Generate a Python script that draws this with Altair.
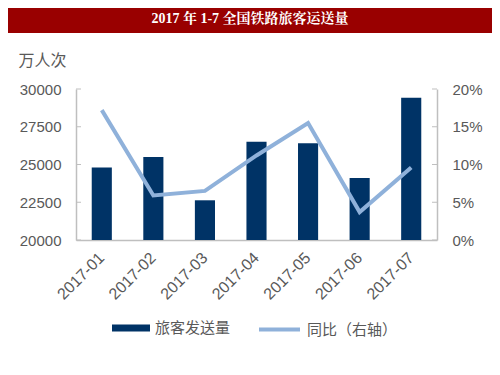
import altair as alt
import pandas as pd

months = ["2017-01", "2017-02", "2017-03", "2017-04", "2017-05", "2017-06", "2017-07"]
volume = [24800, 25500, 22630, 26500, 26400, 24100, 29420]
yoy = [0.172, 0.059, 0.065, 0.112, 0.155, 0.037, 0.096]
left_ticks = [20000, 22500, 25000, 27500, 30000]
right_ticks = [0, 0.05, 0.10, 0.15, 0.20]
title_text = "2017 年 1-7 全国铁路旅客运送量"
bar_name = "旅客发送量"
line_name = "同比（右轴）"
unit_label = "万人次"

FONT = "Liberation Sans, Noto Sans CJK SC, sans-serif"
TXT = "#595959"
GRID = "#BFBFBF"
BAR = "#003366"
LINE = "#8FB1DA"

df = pd.DataFrame({"month": months, "volume": volume, "yoy": yoy,
                   "s1": bar_name, "s2": line_name})

W, H = 361, 151
PL, PT = 68, 81

x = alt.X("month:N", title=None,
          scale=alt.Scale(paddingInner=0.61, paddingOuter=0.305),
          axis=alt.Axis(labelAngle=-45, labelAlign="right", labelBaseline="middle",
                        labelPadding=15, labelFontSize=16, ticks=False))

banner = alt.Chart(pd.DataFrame({"t": [title_text]})).mark_rect(color="#990000").encode(
    x=alt.value(-PL), x2=alt.value(W + 55), y=alt.value(-PT), y2=alt.value(-PT + 25))

title = alt.Chart(pd.DataFrame({"t": [title_text]})).mark_text(
    color="white", fontWeight="bold", fontSize=14,
    font="Liberation Serif, Noto Serif CJK SC, Noto Sans CJK SC, serif",
    align="center", baseline="middle").encode(
    text="t:N", x=alt.value(250 - 76), y=alt.value(-PT + 11))

bars = alt.Chart(df).mark_bar().encode(
    x=x,
    y=alt.Y("volume:Q",
            scale=alt.Scale(domain=[20000, 30000], zero=False, nice=False),
            axis=alt.Axis(orient="left", values=left_ticks, format="d", ticks=False,
                          labelPadding=15,
                          title=unit_label, titleAngle=0, titleX=-58, titleY=-29,
                          titleAlign="left", titleBaseline="middle", titleFontSize=16,
                          titleFontWeight="normal", titleColor=TXT, titleFont=FONT)),
    y2=alt.datum(20000),
    fill=alt.Fill("s1:N", scale=alt.Scale(domain=[bar_name], range=[BAR]),
                  legend=alt.Legend(title=None, orient="none", legendX=36, legendY=220,
                                    symbolType="M-1,-0.18L1,-0.18L1,0.18L-1,0.18Z",
                                    symbolSize=1444, symbolStrokeWidth=0, labelOffset=5,
                                    labelFontSize=15, labelColor=TXT, labelFont=FONT)),
)

lticks = alt.Chart(pd.DataFrame({"v": left_ticks})).mark_rule(color=GRID).encode(
    y=alt.Y("v:Q", scale=alt.Scale(domain=[20000, 30000], zero=False, nice=False), axis=None),
    x=alt.value(0), x2=alt.value(5))

line = alt.Chart(df).mark_line(strokeWidth=4).encode(
    x=x,
    y=alt.Y("yoy:Q", scale=alt.Scale(domain=[0, 0.2], nice=False),
            axis=alt.Axis(orient="right", values=right_ticks, format=".0%", ticks=False,
                          labelPadding=15, title=None)),
    stroke=alt.Stroke("s2:N", scale=alt.Scale(domain=[line_name], range=[LINE]),
                      legend=alt.Legend(title=None, orient="none", legendX=181, legendY=218,
                                        symbolType="stroke", symbolSize=1681,
                                        symbolStrokeWidth=4, labelOffset=5,
                                        labelFontSize=15, labelColor=TXT, labelFont=FONT)),
)

rticks = alt.Chart(pd.DataFrame({"v": right_ticks})).mark_rule(color=GRID).encode(
    y=alt.Y("v:Q", scale=alt.Scale(domain=[0, 0.2], nice=False), axis=None),
    x=alt.value(W - 5), x2=alt.value(W))

chart = alt.layer(banner, title, bars, lticks, line, rticks).resolve_scale(
    y="independent", fill="independent", stroke="independent"
).properties(
    width=W, height=H,
    autosize=alt.AutoSizeParams(type="none"),
    padding={"left": PL, "top": PT, "right": 55, "bottom": 127},
).configure_view(stroke=None).configure_axis(
    domainColor=GRID, domainWidth=1.5, grid=False, labelColor=TXT, labelFontSize=15,
    labelFont=FONT,
)

chart.save("out.html", embed_options={"renderer": "svg", "actions": False})
